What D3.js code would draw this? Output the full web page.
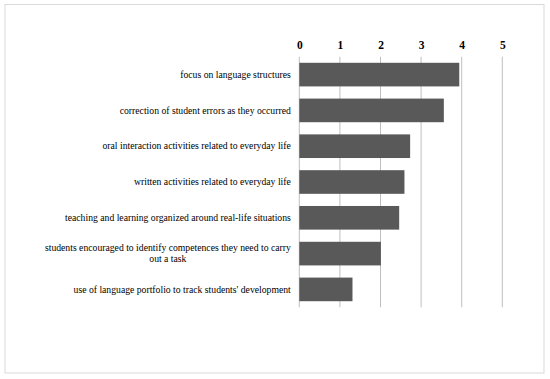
<!DOCTYPE html>
<html>
<head>
<meta charset="utf-8">
<script src="https://cdn.jsdelivr.net/npm/d3@7"></script>
<style>
  body { margin: 0; background: #fff; }
</style>
</head>
<body>
<div id="chart"></div>
<script>

// categories, top to bottom
var categories = [
    'focus on language structures',
    'correction of student errors as they occurred',
    'oral interaction activities related to everyday life',
    'written activities related to everyday life',
    'teaching and learning organized around real-life situations',
    'students encouraged to identify competences they need to carry out a task',
    'use of language portfolio to track students\' development'
];

// label lines (long one wraps)
var labelLines = [
    ['focus on language structures'],
    ['correction of student errors as they occurred'],
    ['oral interaction activities related to everyday life'],
    ['written activities related to everyday life'],
    ['teaching and learning organized around real-life situations'],
    ['students encouraged to identify competences they need to carry', 'out a task'],
    ['use of language portfolio to track students\' development']
];

var values = [3.94, 3.56, 2.73, 2.59, 2.46, 2.01, 1.31];

var tickValues = [0, 1, 2, 3, 4, 5];

var serif = '"Liberation Serif"';

var svgWidth = 550;
var svgHeight = 379;

var chartMargin = { top: 56.7, left: 299.3 };
var chartWidth = 203;
var chartHeight = 250.6;

var svg = d3.select('#chart')
    .append('svg')
    .attr('width', svgWidth)
    .attr('height', svgHeight)
    .style('font-family', serif);

// outer frame
svg.append('rect')
    .attr('x', 5)
    .attr('y', 4.5)
    .attr('width', 539)
    .attr('height', 368.5)
    .attr('fill', 'none')
    .attr('stroke', '#d9d9d9')
    .attr('stroke-width', 1);

var chartGroup = svg.append('g')
    .attr('transform', `translate(${chartMargin.left}, ${chartMargin.top})`);

var xScale = d3.scaleLinear()
    .domain([0, 5])
    .range([0, chartWidth]);

var yScale = d3.scaleBand()
    .domain(categories)
    .range([0, chartHeight])
    .paddingInner(0.34)
    .paddingOuter(0.17);

// gridlines
chartGroup.append('g')
    .selectAll('line')
    .data(tickValues)
    .enter()
    .append('line')
    .attr('x1', d => xScale(d))
    .attr('x2', d => xScale(d))
    .attr('y1', 0)
    .attr('y2', chartHeight)
    .attr('stroke', '#bfbfbf')
    .attr('stroke-width', 1);

// top axis labels
var topAxis = d3.axisTop(xScale)
    .tickValues(tickValues)
    .tickFormat(d3.format('d'))
    .tickSize(0)
    .tickPadding(0);
var axisG = chartGroup.append('g')
    .attr('transform', 'translate(0,-7.5)')
    .call(topAxis);
axisG.select('.domain').remove();
axisG.attr('font-family', null);
axisG.selectAll('text')
    .style('font-family', serif)
    .style('font-size', '11.5px')
    .style('font-weight', 'bold')
    .attr('fill', '#000');

// bars
chartGroup.append('g')
    .selectAll('rect')
    .data(values)
    .enter()
    .append('rect')
    .attr('x', 0)
    .attr('y', (d, i) => yScale(categories[i]))
    .attr('width', d => xScale(d))
    .attr('height', yScale.bandwidth())
    .attr('fill', '#595959');

// category labels
var labelRight = -8.5;
var labels = chartGroup.append('g')
    .selectAll('text')
    .data(labelLines)
    .enter()
    .append('text')
    .style('font-family', serif)
    .style('font-size', '9.7px')
    .attr('fill', '#000')
    .attr('text-anchor', 'end');

labels.each(function(lines, i) {
    var t = d3.select(this);
    var cy = yScale(categories[i]) + yScale.bandwidth() / 2;
    var lineH = 11;
    var y0 = cy - (lines.length - 1) * lineH / 2 + 3.2;
    if (lines.length === 1) {
        t.attr('x', labelRight).attr('y', y0).text(lines[0]);
    } else {
        // wrapped: lines centered under widest line
        var spans = lines.map(function(l, k) {
            return t.append('tspan').attr('y', y0 + k * lineH).text(l);
        });
        var widths = spans.map(s => s.node().getComputedTextLength());
        var maxW = d3.max(widths);
        t.attr('text-anchor', 'middle');
        spans.forEach(function(s) { s.attr('x', labelRight - maxW / 2); });
    }
});

</script>
</body>
</html>
